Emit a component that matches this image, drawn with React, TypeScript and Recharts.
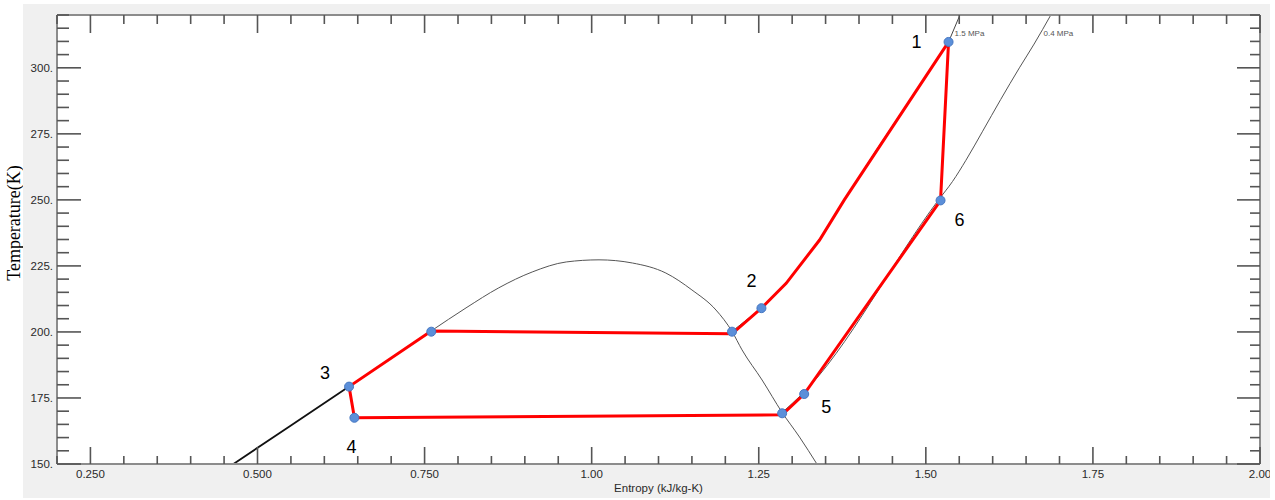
import React from "react";
import { ComposedChart, Line, Scatter, XAxis, YAxis, CartesianGrid } from "recharts";

// state points 1..6 (s in kJ/kg-K, T in K)
const stateNames = ["1", "2", "3", "4", "5", "6"];
const stateS = [1.534, 1.254, 0.637, 0.645, 1.318, 1.522];
const stateT = [309.8, 209.0, 179.3, 167.5, 176.5, 249.8];

// red cycle path in drawing order: 1 -> 6 -> 5 -> sat. vap -> 4 -> 3 -> sat. liq -> sat. vap -> 2 -> 1
const cycleS = [1.534, 1.522, 1.318, 1.285, 0.645, 0.637, 0.76, 1.21, 1.254, 1.291, 1.341, 1.378, 1.534];
const cycleT = [309.8, 249.8, 176.5, 168.6, 167.5, 179.3, 200.4, 199.3, 209.0, 218.4, 234.8, 250.0, 309.8];

// blue markers
const markerS = [1.534, 1.522, 1.318, 1.285, 0.645, 0.637, 0.76, 1.21, 1.254];
const markerT = [309.8, 249.8, 176.5, 169.2, 167.5, 179.3, 200.1, 200.1, 209.0];

// saturation dome
const liquidS = [0.464, 0.55, 0.637];
const liquidT = [150, 164.6, 179.3];
const domeS = [0.637, 0.7, 0.76, 0.812, 0.861, 0.911, 0.962, 1.011, 1.061, 1.111, 1.15, 1.186, 1.21, 1.225, 1.255, 1.285, 1.311, 1.337];
const domeT = [179.3, 190.0, 200.4, 209.1, 216.7, 222.7, 226.5, 227.3, 226.1, 222.3, 215.9, 208.3, 200.2, 193.2, 181.8, 169.5, 160.2, 150];

// isobars
const hpS = [1.21, 1.254, 1.291, 1.341, 1.378, 1.426, 1.534, 1.551];
const hpT = [200.2, 209.0, 218.4, 234.8, 250.0, 268.9, 309.8, 320];
const lpS = [1.285, 1.315, 1.519, 1.54, 1.56, 1.585, 1.612, 1.64, 1.662, 1.687];
const lpT = [169.5, 176.5, 250.0, 257.0, 265.0, 276.0, 288.0, 300.0, 309.0, 320];
const isobarNames = ["1.5 MPa", "0.4 MPa"];
const isobarS = [1.543, 1.676];
const isobarT = [313.3, 313.3];

// axes
const xMajor = [0.25, 0.5, 0.75, 1.0, 1.25, 1.5, 1.75, 2.0];
const xLabels = ["0.250", "0.500", "0.750", "1.00", "1.25", "1.50", "1.75", "2.00"];
const yMajor = [150, 175, 200, 225, 250, 275, 300];
const yLabels = ["150.", "175.", "200.", "225.", "250.", "275.", "300."];

const xTicks = Array.from({ length: 37 }, (_, i) => Math.round((0.2 + i * 0.05) * 100) / 100);
const yTicks = Array.from({ length: 35 }, (_, i) => 150 + i * 5);

const zip = (s: number[], t: number[]) => s.map((v, i) => ({ s: v, T: t[i] }));

const cycle = zip(cycleS, cycleT);
const markers = zip(markerS, markerT);
const liquid = zip(liquidS, liquidT);
const dome = zip(domeS, domeT);
const hp = zip(hpS, hpT);
const lp = zip(lpS, lpT);
const states = stateNames.map((name, i) => ({ name, s: stateS[i], T: stateT[i] }));
const isobars = isobarNames.map((name, i) => ({ name, s: isobarS[i], T: isobarT[i] }));

const stateOffset: Record<string, [number, number]> = {
  "1": [-32, 0],
  "2": [-10, -27],
  "3": [-24, -14],
  "4": [-3, 29],
  "5": [22, 13],
  "6": [19, 20],
};

const TICK = "#555";
const FRAME = "#8c8c8c";
const FONT = "'Liberation Sans', Arial, sans-serif";
const LABEL = "#2a2a2a";

const idx = (arr: number[], v: number) => arr.findIndex((m) => Math.abs(m - v) < 1e-6);

function BottomTick({ x, y, payload }: any) {
  const i = idx(xMajor, payload.value);
  return (
    <g>
      <line x1={x} y1={y} x2={x} y2={y - (i >= 0 ? 17 : 8)} stroke={TICK} strokeWidth={1.6} />
      {i >= 0 && (
        <text x={x} y={y + 14} textAnchor="middle" fontSize={11.5} fontFamily={FONT} fill={LABEL}>
          {xLabels[i]}
        </text>
      )}
    </g>
  );
}

function TopTick({ x, y, payload }: any) {
  const major = idx(xMajor, payload.value) >= 0;
  return <line x1={x} y1={y} x2={x} y2={y + (major ? 18 : 9)} stroke={TICK} strokeWidth={1.6} />;
}

function LeftTick({ x, y, payload }: any) {
  const i = idx(yMajor, payload.value);
  return (
    <g>
      <line x1={x} y1={y} x2={x + (i >= 0 ? 24 : 12)} y2={y} stroke={TICK} strokeWidth={1.6} />
      {i >= 0 && (
        <text x={x - 4} y={y + 4} textAnchor="end" fontSize={11.5} fontFamily={FONT} fill={LABEL}>
          {yLabels[i]}
        </text>
      )}
    </g>
  );
}

function RightTick({ x, y, payload }: any) {
  const major = idx(yMajor, payload.value) >= 0;
  return <line x1={x} y1={y} x2={x - (major ? 23 : 10)} y2={y} stroke={TICK} strokeWidth={1.6} />;
}

const StateLabel = (p: any) => {
  const [dx, dy] = stateOffset[p.payload.name] || [0, 0];
  return (
    <text x={p.cx + dx} y={p.cy + dy + 6} textAnchor="middle" fontSize={18} fontFamily={FONT} fill="#000">
      {p.payload.name}
    </text>
  );
};

const IsobarLabel = (p: any) => (
  <text x={p.cx} y={p.cy + 3} fontSize={8} fontFamily={FONT} fill="#555">
    {p.payload.name}
  </text>
);

const Marker = (p: any) => <circle cx={p.cx} cy={p.cy} r={4.5} fill="#5b8fd9" stroke="#4677c2" strokeWidth={1} />;

export default function App() {
  return (
    <div style={{ position: "absolute", left: 0, top: 0, width: 1275, height: 500, background: "#fff" }}>
      <svg width={23} height={500} style={{ position: "absolute", left: 0, top: 0 }}>
        <text
          transform="translate(19.5,223) rotate(-90)"
          textAnchor="middle"
          fontSize={18}
          fontFamily="'Liberation Serif', 'Times New Roman', serif"
          fill="#000"
        >
          Temperature(K)
        </text>
      </svg>
      <div style={{ position: "absolute", left: 23, top: 4, width: 1247, height: 494, background: "#f0f0f0" }}>
        <ComposedChart width={1247} height={494} margin={{ top: 10, right: 9, bottom: 0, left: 0 }}>
          <CartesianGrid fill="#fff" horizontal={false} vertical={false} />
          <XAxis
            dataKey="s"
            type="number"
            domain={[0.2, 2.0]}
            allowDataOverflow
            ticks={xTicks}
            interval={0}
            tickSize={0}
            tickMargin={0}
            tick={<BottomTick />}
            axisLine={{ stroke: FRAME, strokeWidth: 2 }}
            height={34}
            label={{ value: "Entropy (kJ/kg-K)", position: "insideBottom", offset: 6, fontSize: 11.5, fontFamily: FONT, fill: LABEL }}
          />
          <XAxis
            xAxisId="top"
            orientation="top"
            dataKey="s"
            type="number"
            domain={[0.2, 2.0]}
            allowDataOverflow
            ticks={xTicks}
            interval={0}
            tickSize={0}
            tickMargin={0}
            tick={<TopTick />}
            axisLine={{ stroke: FRAME, strokeWidth: 2 }}
            height={1}
          />
          <YAxis
            type="number"
            domain={[150, 320]}
            allowDataOverflow
            ticks={yTicks}
            interval={0}
            tickSize={0}
            tickMargin={0}
            tick={<LeftTick />}
            axisLine={{ stroke: FRAME, strokeWidth: 2 }}
            width={34}
          />
          <YAxis
            yAxisId="right"
            orientation="right"
            type="number"
            domain={[150, 320]}
            allowDataOverflow
            ticks={yTicks}
            interval={0}
            tickSize={0}
            tickMargin={0}
            tick={<RightTick />}
            axisLine={{ stroke: FRAME, strokeWidth: 2 }}
            width={1}
          />
          <Line data={liquid} dataKey="T" type="linear" stroke="#111" strokeWidth={1.8} dot={false} activeDot={false} isAnimationActive={false} />
          <Line data={dome} dataKey="T" type="monotone" stroke="#555" strokeWidth={1} dot={false} activeDot={false} isAnimationActive={false} />
          <Line data={hp} dataKey="T" type="linear" stroke="#444" strokeWidth={1} dot={false} activeDot={false} isAnimationActive={false} />
          <Line data={lp} dataKey="T" type="monotone" stroke="#555" strokeWidth={1} dot={false} activeDot={false} isAnimationActive={false} />
          <Line data={cycle} dataKey="T" type="linear" stroke="#ff0000" strokeWidth={3} dot={false} activeDot={false} isAnimationActive={false} />
          <Scatter data={markers} dataKey="T" shape={<Marker />} isAnimationActive={false} />
          <Scatter data={states} dataKey="T" shape={<StateLabel />} isAnimationActive={false} />
          <Scatter data={isobars} dataKey="T" shape={<IsobarLabel />} isAnimationActive={false} />
        </ComposedChart>
      </div>
    </div>
  );
}
